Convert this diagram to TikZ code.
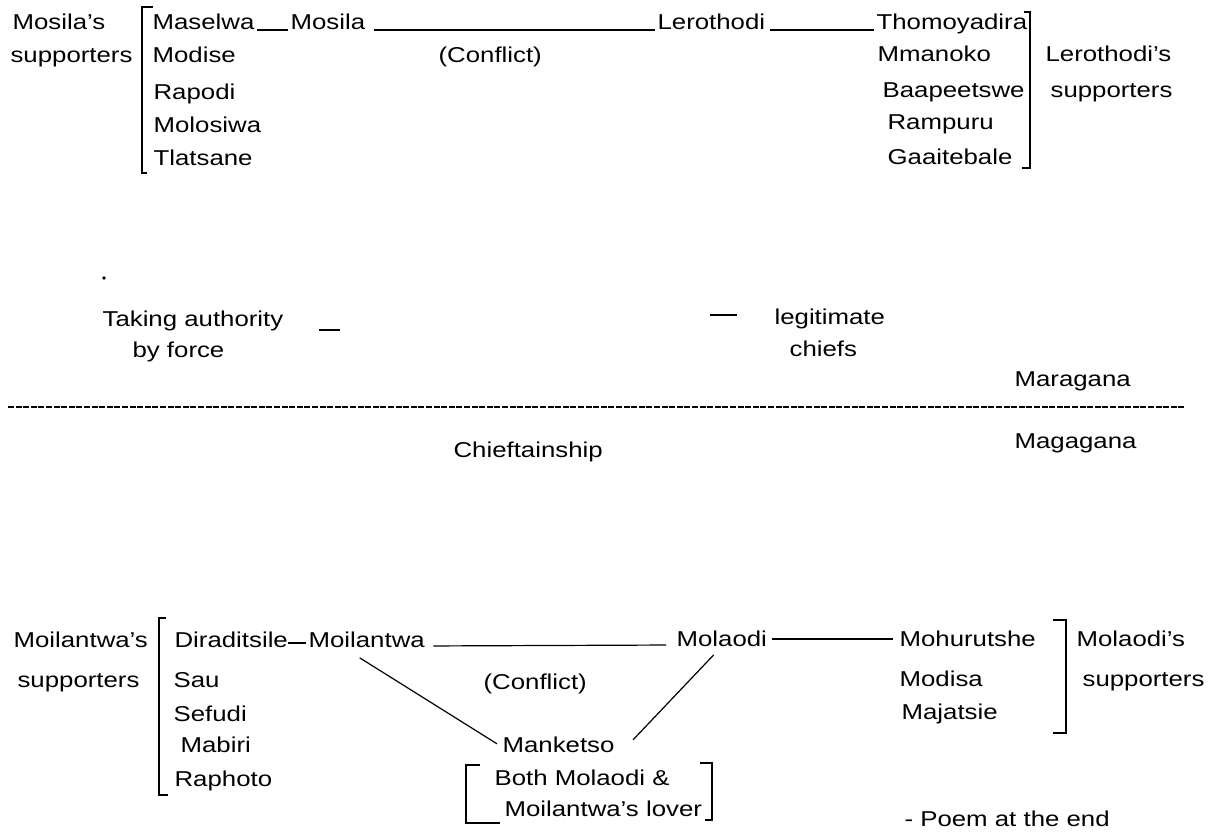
\documentclass[tikz,border=0pt]{standalone}
\usepackage{fontspec}
\setmainfont{Liberation Sans}[FakeStretch=1.2]
\begin{document}
\begin{tikzpicture}[x=0.5pt, y=-0.5pt, line width=0.6pt,
  every node/.style={inner sep=0, anchor=base west, font=\fontsize{10.75}{13}\selectfont},
  link/.style={shorten <=1pt, shorten >=1pt}]
\useasboundingbox (0,0) rectangle (1212,833);
% top: Mosila against Lerothodi
\node (S_0_0) at (12,30) {Mosila's};
\node (S_0_1) at (10,63) {supporters};
\draw (153,7) -- (142,7) -- (142,173) -- (147,173);
\node (Maselwa) at (152,30) {Maselwa};
\node (Mosila) at (290,30) {Mosila};
\draw[link] (Maselwa.base east) -- (Mosila.base west);
\node (Lerothodi) at (657,30) {Lerothodi};
\draw[link, shorten <=4pt] (Mosila.base east) -- (Lerothodi.base west);
\node (Thomoyadira) at (876,30) {Thomoyadira};
\draw[link, shorten <=2pt] (Lerothodi.base east) -- (Thomoyadira.base west);
\node (C_0) at (438,63) {(Conflict)};
\node (L_0_1) at (152,63) {Modise};
\node (L_0_2) at (153,100) {Rapodi};
\node (L_0_3) at (153,133) {Molosiwa};
\node (L_0_4) at (153,166) {Tlatsane};
\node (R_0_1) at (877,62) {Mmanoko};
\node (R_0_2) at (882,98) {Baapeetswe};
\node (R_0_3) at (887,130) {Rampuru};
\node (R_0_4) at (887,165) {Gaaitebale};
\draw (1024,12) -- (1030,12) -- (1030,168) -- (1022,168);
\node (S_1_0) at (1045,62) {Lerothodi's};
\node (S_1_1) at (1050,98) {supporters};
% middle
\fill (104,278) circle (0.9pt);
\node (Force_0) at (102,327) {Taking authority};
\node (Force_1) at (132,358) {by force};
\draw (319,330) -- (340,330);
\draw (710,315) -- (737,315);
\node (Legit_0) at (774,325) {legitimate};
\node (Legit_1) at (789,357) {chiefs};
\node (Maragana) at (1014,387) {Maragana};
\draw[dash pattern=on 3pt off 0.8pt] (8,407) -- (1184,407);
\node (Chief) at (453,458) {Chieftainship};
\node (Magagana) at (1014,449) {Magagana};
% bottom: Moilantwa against Molaodi
\node (S_2_0) at (13,648) {Moilantwa's};
\node (S_2_1) at (17,688) {supporters};
\draw (166,618) -- (159,618) -- (159,795) -- (168,795);
\node (Diraditsile) at (174,648) {Diraditsile};
\node (Moilantwa) at (308,648) {Moilantwa};
\draw[link, shorten <=0pt] ([yshift=2.5pt]Diraditsile.base east) -- ([yshift=2.5pt]Moilantwa.base west);
\node (Molaodi) at (676,647) {Molaodi};
\draw[link, shorten <=4pt, shorten >=5pt] ([yshift=1pt]Moilantwa.base east) -- ([yshift=1pt]Molaodi.base west);
\node (Mohurutshe) at (899,647) {Mohurutshe};
\draw[link, shorten <=2pt, shorten >=3pt] ([yshift=4pt]Molaodi.base east) -- ([yshift=4pt]Mohurutshe.base west);
\node (L_2_1) at (173,688) {Sau};
\node (L_2_2) at (173,722) {Sefudi};
\node (L_2_3) at (180,753) {Mabiri};
\node (L_2_4) at (174,787) {Raphoto};
\node (C_2) at (483,690) {(Conflict)};
\node (Manketso) at (502,753) {Manketso};
\draw ([shift={(-7,9)}]Moilantwa.south) -- ([shift={(-5,7)}]Manketso.north west);
\draw ([shift={(-8,7)}]Molaodi.south) -- ([shift={(18,3)}]Manketso.north east);
\node (Lover_0) at (494,786) {Both Molaodi \&};
\node (Lover_1) at (504,817) {Moilantwa's lover};
\draw (480,765) -- (466,765) -- (466,823) -- (500,823);
\draw (700,763) -- (712,763) -- (712,820) -- (705,820);
\node (R_2_1) at (899,687) {Modisa};
\node (R_2_2) at (901,720) {Majatsie};
\draw (1053,620) -- (1066,620) -- (1066,733) -- (1053,733);
\node (S_3_0) at (1076,647) {Molaodi's};
\node (S_3_1) at (1082,687) {supporters};
\node (Poem) at (904,827) {- Poem at the end};
\end{tikzpicture}
\end{document}
